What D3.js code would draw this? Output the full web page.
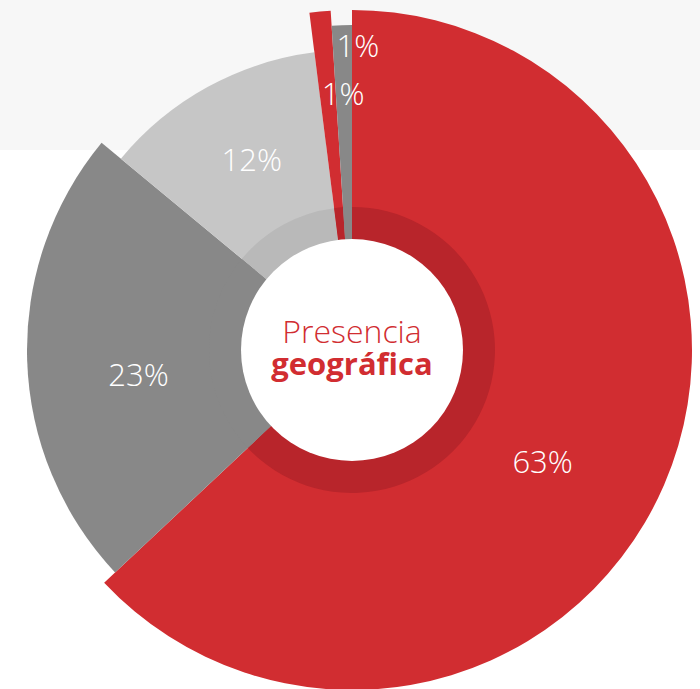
<!DOCTYPE html>
<html>
<head>
<meta charset="utf-8">
<script src="https://cdn.jsdelivr.net/npm/d3@7"></script>
<style>
  body { margin: 0; background: #fff; }
  svg { display: block; }
</style>
</head>
<body>
<div id="chart"></div>
<script>
// data
const values = [63, 23, 12, 1, 1];
const labels = ["63%", "23%", "12%", "1%", "1%"];
const tones = ["red", "grey", "light", "red", "grey"];

// look
const width = 700, height = 689;
const cx = 352, cy = 350;
const fill = d3.scaleOrdinal().domain(["red", "grey", "light"]).range(["#d12d31", "#888888", "#c6c6c6"]);
const ringFill = d3.scaleOrdinal().domain(["red", "grey", "light"]).range(["#b8252b", "#888888", "#b9b9b9"]);
const outerR = d3.scaleOrdinal().domain(["red", "grey", "light"]).range([340, 325, 300]);
// label placement: [radius, angle in degrees from 12 o'clock]
const labelAt = [[221, 120.4], [215, 263.3], [215, 332.2], [256, 358], [304, 1.1]];

const svg = d3.select("#chart").append("svg")
    .attr("width", width)
    .attr("height", height);

// grey band at the top
svg.append("rect")
    .attr("x", 0).attr("y", 0)
    .attr("width", width).attr("height", 150)
    .attr("fill", "#f7f7f7");

const g = svg.append("g").attr("transform", `translate(${cx},${cy})`);

const pie = d3.pie().sort(null).value(d => d);
const arcs = pie(values);

// slices
g.selectAll("path.slice")
  .data(arcs)
  .join("path")
    .attr("class", "slice")
    .attr("d", (d, i) => d3.arc().innerRadius(0).outerRadius(outerR(tones[i]))(d))
    .attr("fill", (d, i) => fill(tones[i]));

// darker inner ring
const ring = d3.arc().innerRadius(110).outerRadius(143);
g.selectAll("path.ring")
  .data(arcs)
  .join("path")
    .attr("class", "ring")
    .attr("d", ring)
    .attr("fill", (d, i) => ringFill(tones[i]));

g.append("circle").attr("r", 111).attr("fill", "#fff");

// percent labels
g.selectAll("text.pct")
  .data(arcs)
  .join("text")
    .attr("class", "pct")
    .attr("x", (d, i) => labelAt[i][0] * Math.sin(labelAt[i][1] * Math.PI / 180))
    .attr("y", (d, i) => -labelAt[i][0] * Math.cos(labelAt[i][1] * Math.PI / 180))
    .attr("dy", "0.36em")
    .attr("text-anchor", "middle")
    .attr("fill", "#fff")
    .style("font-family", "'Open Sans', sans-serif")
    .style("font-weight", 300)
    .style("font-size", "31px")
    .text((d, i) => labels[i]);

// centre title
g.append("text")
    .attr("y", -7)
    .attr("text-anchor", "middle")
    .attr("fill", "#d12d31")
    .style("font-family", "'Open Sans', sans-serif")
    .style("font-weight", 300)
    .style("font-size", "32px")
    .text("Presencia");
g.append("text")
    .attr("y", 25)
    .attr("text-anchor", "middle")
    .attr("fill", "#d12d31")
    .style("font-family", "'Open Sans', sans-serif")
    .style("font-weight", 700)
    .style("font-size", "31px")
    .text("geográfica");
</script>
</body>
</html>
